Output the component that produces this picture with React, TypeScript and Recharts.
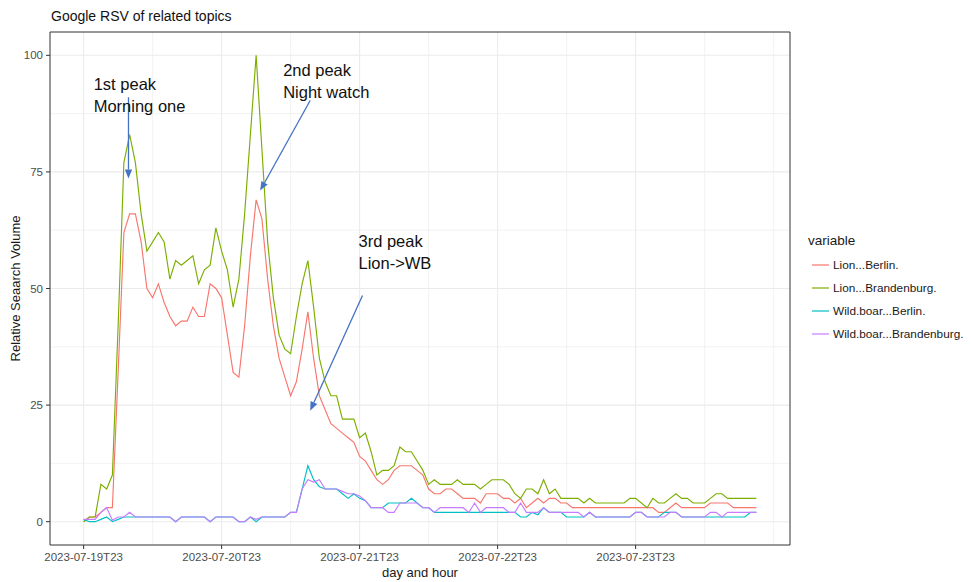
import React from "react";
import {
  LineChart,
  Line,
  XAxis,
  YAxis,
  CartesianGrid,
  ReferenceArea,
  ReferenceLine,
  ReferenceDot,
  Legend,
} from "recharts";

// x positions: hours counted from 2023-07-19T23
const hourIndex = Array.from({ length: 118 }, (_, i) => i);

const xDomain = [-5.85, 122.85];
const yDomain = [-5, 105];
const xTickHours = [0, 24, 48, 72, 96];
const xTickLabels = [
  "2023-07-19T23",
  "2023-07-20T23",
  "2023-07-21T23",
  "2023-07-22T23",
  "2023-07-23T23",
];
const xMinorHours = [12, 36, 60, 84, 108, 120];
const yTicks = [0, 25, 50, 75, 100];
const yMinor = [12.5, 37.5, 62.5, 87.5];

const seriesNames = [
  "Lion...Berlin.",
  "Lion...Brandenburg.",
  "Wild.boar...Berlin.",
  "Wild.boar...Brandenburg.",
];
const seriesColors = ["#F8766D", "#7CAE00", "#00BFC4", "#C77CFF"];

const lionBerlin = [
  0, 1, 1, 2, 3, 3, 32, 62, 66, 66,
  60, 50, 48, 51, 47, 44, 42, 43, 43, 46,
  44, 44, 51, 50, 48, 40, 32, 31, 42, 57,
  69, 65, 52, 42, 35, 31, 27, 30, 37, 45,
  35, 27, 24, 21, 20, 19, 18, 17, 14, 13,
  11, 9, 8, 9, 11, 12, 12, 12, 11, 10,
  7, 6, 6, 7, 7, 6, 5, 5, 5, 4,
  6, 6, 6, 5, 5, 4, 5, 3, 4, 5,
  4, 5, 5, 4, 4, 3, 3, 3, 3, 3,
  3, 3, 3, 3, 3, 3, 3, 3, 3, 3,
  2, 2, 3, 4, 3, 3, 3, 3, 3, 4,
  4, 4, 4, 3, 3, 3, 3, 3,
];

const lionBrandenburg = [
  0, 1, 1, 8, 7, 10, 42, 77, 83, 77,
  66, 58, 60, 62, 60, 52, 56, 55, 56, 57,
  51, 54, 55, 63, 58, 54, 46, 52, 66, 83,
  100, 80, 60, 48, 40, 37, 36, 44, 51, 56,
  46, 35, 30, 27, 27, 22, 22, 22, 18, 19,
  15, 10, 11, 11, 12, 16, 15, 15, 13, 11,
  8, 9, 8, 8, 8, 9, 8, 8, 8, 7,
  8, 9, 9, 9, 8, 6, 5, 7, 7, 6,
  9, 6, 7, 5, 5, 5, 5, 4, 5, 4,
  4, 4, 4, 4, 4, 5, 5, 4, 3, 5,
  4, 4, 5, 6, 5, 5, 4, 4, 4, 5,
  6, 6, 5, 5, 5, 5, 5, 5,
];

const boarBerlin = [
  0.5, 0, 0, 0.5, 1, 0, 0.5, 1, 1, 1,
  1, 1, 1, 1, 1, 1, 0, 1, 1, 1,
  1, 1, 0, 1, 1, 1, 1, 0, 0, 1,
  0, 1, 1, 1, 1, 1, 2, 2, 7, 12,
  9, 7.5, 7, 7, 7, 6, 5, 6, 5, 4.5,
  3, 3, 3, 4, 4, 4, 4, 5, 4, 3,
  3, 2, 2, 2, 2, 2, 2, 2, 2, 2,
  2, 2, 2, 2, 2, 2, 1, 1, 2, 1.5,
  3, 2, 2, 2, 1, 1, 1, 1, 2, 1,
  1, 1, 1, 1, 1, 1, 2, 2, 1, 1,
  1, 2, 2, 2, 1, 1, 1, 1, 1, 1,
  1, 1, 1, 1, 1, 1, 2, 2,
];

const boarBrandenburg = [
  0.5, 0.5, 0.5, 2, 3, 0.3, 1, 1, 2, 1,
  1, 1, 1, 1, 1, 1, 0, 1, 1, 1,
  1, 1, 0, 1, 1, 1, 1, 0, 0, 1,
  0.5, 1, 1, 1, 1, 1, 2, 2, 7, 9,
  8.5, 9, 7, 7, 7, 6.5, 6, 6, 5.5, 4.5,
  3, 3, 3, 2, 2, 4, 4, 4, 4, 3,
  3, 2, 3, 3, 3, 3, 3, 2, 4, 2,
  3, 3, 3, 3, 2, 2, 4, 2, 2, 2,
  3, 2, 2, 2, 2, 2, 2, 1, 2, 1,
  1, 1, 1, 1, 1, 1, 2, 2, 1, 1,
  1, 1, 2, 2, 1, 1, 1, 1, 1, 2,
  2, 1, 2, 2, 2, 2, 2, 2,
];

// annotation texts and arrows (data coords: hour, RSV)
const peakTexts = [
  ["1st peak", "Morning one"],
  ["2nd peak", "Night watch"],
  ["3rd peak", "Lion->WB"],
];
const peakTextAt = [
  [1.75, 92.5],
  [34.7, 95.5],
  [47.8, 58.8],
];
const arrowFrom = [
  [7.8, 91],
  [39.4, 90.3],
  [48.5, 48.5],
];
const arrowTo = [
  [7.8, 73.6],
  [30.7, 71.0],
  [39.4, 23.8],
];

const FONT = "'Liberation Sans', Arial, Helvetica, sans-serif";
const ARROW = "#4472C4";

const seriesData = [lionBerlin, lionBrandenburg, boarBerlin, boarBrandenburg];

const data = hourIndex.map((h, i) => {
  const row: Record<string, number> = { hour: h };
  seriesNames.forEach((name, s) => {
    row[name] = seriesData[s][i];
  });
  return row;
});

const arrowShape = (p: any) => {
  const { x1, y1, x2, y2 } = p;
  const ang = Math.atan2(y2 - y1, x2 - x1);
  const len = 9;
  const half = 3.6;
  const bx = x2 - len * Math.cos(ang);
  const by = y2 - len * Math.sin(ang);
  const px = -Math.sin(ang) * half;
  const py = Math.cos(ang) * half;
  return (
    <g>
      <line x1={x1} y1={y1} x2={bx} y2={by} stroke={ARROW} strokeWidth={1.3} />
      <polygon
        points={`${x2},${y2} ${bx + px},${by + py} ${bx - px},${by - py}`}
        fill={ARROW}
      />
    </g>
  );
};

const textShape = (lines: string[]) => (p: any) => (
  <text x={p.cx} y={p.cy} fontSize={16.5} fill="#111" fontFamily={FONT}>
    {lines.map((t, k) => (
      <tspan key={k} x={p.cx} dy={k === 0 ? 0 : 22}>
        {t}
      </tspan>
    ))}
  </text>
);

const LegendBox = () => (
  <div style={{ fontFamily: FONT, color: "#1a1a1a" }}>
    <div style={{ fontSize: 13.5, height: 21, lineHeight: "18px", marginLeft: -2 }}>
      variable
    </div>
    {seriesNames.map((name, i) => (
      <div
        key={name}
        style={{ display: "flex", alignItems: "center", height: 23, fontSize: 11.8 }}
      >
        <svg width={20} height={10}>
          <line x1={2} y1={5} x2={19} y2={5} stroke={seriesColors[i]} strokeWidth={1.2} />
        </svg>
        <span style={{ marginLeft: 3, whiteSpace: "nowrap" }}>{name}</span>
      </div>
    ))}
  </div>
);

const YTitle = (p: any) => {
  const vb = p.viewBox;
  const cy = vb.y + vb.height / 2;
  return (
    <text
      x={15}
      y={cy}
      transform={`rotate(-90, 15, ${cy})`}
      textAnchor="middle"
      dominantBaseline="central"
      fontSize={13}
      fill="#1a1a1a"
      fontFamily={FONT}
    >
      Relative Seaarch Volume
    </text>
  );
};

export default function App() {
  return (
    <div
      style={{
        position: "absolute",
        left: 0,
        top: 0,
        width: 971,
        height: 582,
        background: "#fff",
        fontFamily: FONT,
      }}
    >
      <div
        style={{
          position: "absolute",
          left: 51,
          top: 8,
          fontSize: 14,
          color: "#111",
          whiteSpace: "nowrap",
        }}
      >
        Google RSV of related topics
      </div>
      <LineChart
        width={971}
        height={582}
        data={data}
        margin={{ top: 32, right: 181, bottom: 0, left: 0 }}
        style={{ fontFamily: FONT }}
      >
        <CartesianGrid
          stroke="#EBEBEB"
          strokeWidth={0.6}
          horizontalValues={yMinor}
          verticalValues={xMinorHours}
        />
        <CartesianGrid
          stroke="#EBEBEB"
          strokeWidth={1.1}
          horizontalValues={yTicks}
          verticalValues={xTickHours}
        />
        <XAxis
          dataKey="hour"
          type="number"
          domain={xDomain}
          allowDataOverflow
          ticks={xTickHours}
          interval={0}
          tickFormatter={(v) => xTickLabels[xTickHours.indexOf(v)] ?? ""}
          height={37}
          axisLine={false}
          tickSize={4}
          tickMargin={4}
          tickLine={{ stroke: "#333" }}
          tick={{ fill: "#4D4D4D", fontSize: 11.5 }}
          label={{
            value: "day and hour",
            position: "insideBottom",
            offset: 5,
            fill: "#1a1a1a",
            fontSize: 13,
          }}
        />
        <YAxis
          type="number"
          domain={yDomain}
          allowDataOverflow
          ticks={yTicks}
          interval={0}
          width={50}
          axisLine={false}
          tickSize={4}
          tickMargin={3}
          tickLine={{ stroke: "#333" }}
          tick={{ fill: "#4D4D4D", fontSize: 11.5 }}
          label={{ content: YTitle }}
        />
        <ReferenceArea
          x1={xDomain[0]}
          x2={xDomain[1]}
          y1={yDomain[0]}
          y2={yDomain[1]}
          fill="none"
          fillOpacity={0}
          stroke="#333"
          strokeWidth={1}
          ifOverflow="visible"
        />
        {seriesNames.map((name, i) => (
          <Line
            key={name}
            type="linear"
            dataKey={name}
            stroke={seriesColors[i]}
            strokeWidth={1.15}
            dot={false}
            activeDot={false}
            isAnimationActive={false}
          />
        ))}
        {arrowFrom.map((f, i) => (
          <ReferenceLine
            key={"arrow" + i}
            segment={[
              { x: f[0], y: f[1] },
              { x: arrowTo[i][0], y: arrowTo[i][1] },
            ]}
            shape={arrowShape}
            ifOverflow="visible"
          />
        ))}
        {peakTexts.map((lines, i) => (
          <ReferenceDot
            key={"txt" + i}
            x={peakTextAt[i][0]}
            y={peakTextAt[i][1]}
            r={0}
            shape={textShape(lines)}
            ifOverflow="visible"
          />
        ))}
        <Legend
          layout="vertical"
          align="center"
          verticalAlign="middle"
          content={() => <LegendBox />}
          wrapperStyle={{ left: 810, top: 232, width: 161 }}
        />
      </LineChart>
    </div>
  );
}
